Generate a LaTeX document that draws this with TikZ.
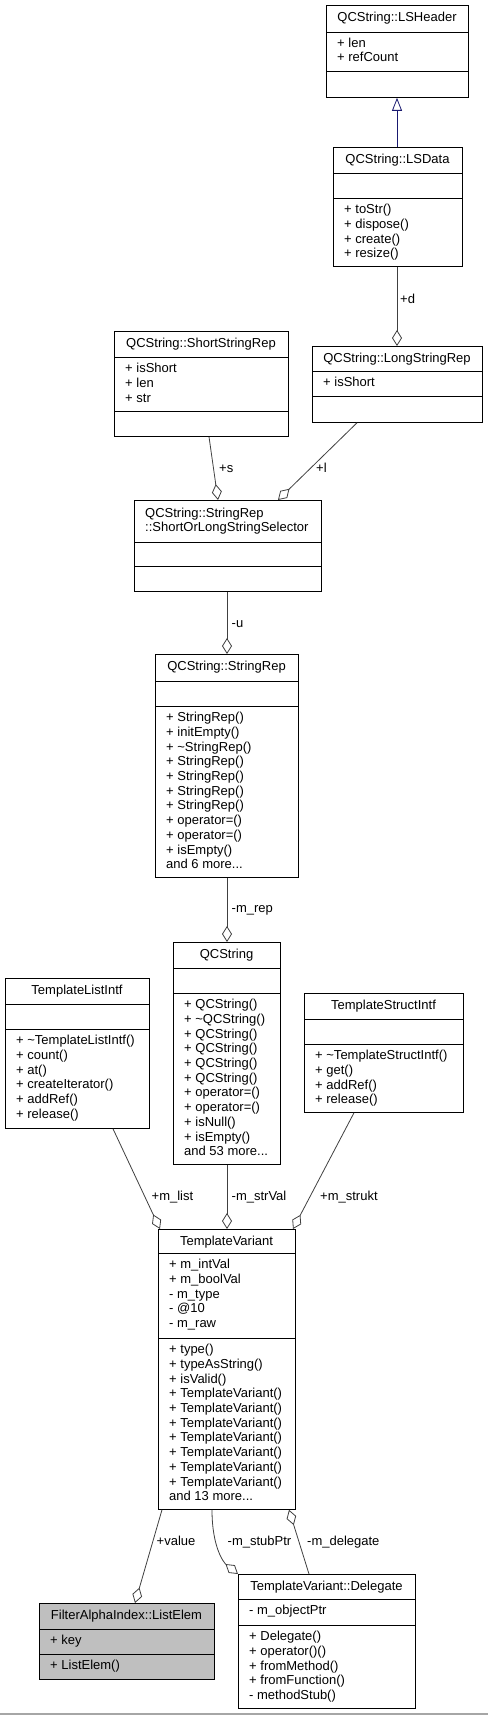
\documentclass[tikz,border=0pt]{standalone}
\usepackage{fontspec}
\setmainfont{Liberation Sans}
\usetikzlibrary{arrows.meta,calc}
\definecolor{linkgray}{HTML}{404040}
\definecolor{inhblue}{HTML}{191970}
\definecolor{elemgray}{HTML}{BFBFBF}
\newcommand\umlbox[8]{%
  \pgfmathsetmacro\ubw{#4-#2}\pgfmathsetmacro\ubh{#5-#3}%
  \node[cls,#8,minimum width=\ubw pt,minimum height=\ubh pt,anchor=north west] (#1) at (#2,#3) {};
  \draw[clsline] (#2,#6) -- (#4,#6);
  \draw[clsline] (#2,#7) -- (#4,#7);
}
\begin{document}
\begin{tikzpicture}[x=1pt,y=-1pt,
  every node/.style={font=\fontsize{13}{14.7}\selectfont},
  cls/.style={draw=black,line width=0.8pt,fill=white,inner sep=0,rectangle},
  clsline/.style={draw=black,line width=0.8pt},
  ttl/.style={anchor=base,inner sep=0},
  mem/.style={anchor=north west,inner sep=0,align=left,yshift=10.29pt},
  lbl/.style={anchor=base west,inner sep=0},
  agg/.style={draw=linkgray,line width=0.8pt,-{Diamond[length=16pt,width=10pt,fill=white]}},
  inh/.style={draw=inhblue,line width=0.8pt,-{Triangle[length=13pt,width=10pt,fill=white]}}]
\useasboundingbox (0,0) rectangle (488,1715);
\fill[white] (0,0) rectangle (488,1715);
\draw[gray!70,line width=1.2pt] (0,1714) -- (488,1714);

% boxes
\umlbox{lsh}{326}{5}{468}{97}{32}{71}{}
\node[ttl] (lsh-t) at (397,22) {QCString::LSHeader};
\node[mem] (lsh-a) at (337,47) {\strut+ len\\+ refCount};

\umlbox{lsd}{333}{147}{462}{266}{173}{198}{}
\node[ttl] (lsd-t) at (397.5,163.5) {QCString::LSData};
\node[mem] (lsd-m) at (344,213.5) {\strut+ toStr()\\+ dispose()\\+ create()\\+ resize()};

\umlbox{ssr}{114}{331}{288}{436}{357}{411}{}
\node[ttl] (ssr-t) at (201,347.5) {QCString::ShortStringRep};
\node[mem] (ssr-a) at (125,372.5) {\strut+ isShort\\+ len\\+ str};

\umlbox{lsr}{312}{346}{482}{422}{371}{396}{}
\node[ttl] (lsr-t) at (397,362) {QCString::LongStringRep};
\node[mem] (lsr-a) at (323,386.5) {\strut+ isShort};

\umlbox{sel}{134}{500}{321}{591}{542}{566}{}
\node[mem] (sel-t) at (145,517) {\strut QCString::StringRep\\::ShortOrLongStringSelector};

\umlbox{sr}{155}{654}{298}{877}{681}{706}{}
\node[ttl] (sr-t) at (226.5,670.5) {QCString::StringRep};
\node[mem] (sr-m) at (166,721.5) {\strut+ StringRep()\\+ initEmpty()\\+ \textasciitilde StringRep()\\+ StringRep()\\+ StringRep()\\+ StringRep()\\+ StringRep()\\+ operator=()\\+ operator=()\\+ isEmpty()\\and 6 more...};

\umlbox{qcs}{173}{942}{280}{1164}{968}{993}{}
\node[ttl] (qcs-t) at (226.5,958.5) {QCString};
\node[mem] (qcs-m) at (184,1008.5) {\strut+ QCString()\\+ \textasciitilde QCString()\\+ QCString()\\+ QCString()\\+ QCString()\\+ QCString()\\+ operator=()\\+ operator=()\\+ isNull()\\+ isEmpty()\\and 53 more...};

\umlbox{tli}{5}{978}{149}{1128}{1004}{1029}{}
\node[ttl] (tli-t) at (77,994.5) {TemplateListIntf};
\node[mem] (tli-m) at (16,1044.5) {\strut+ \textasciitilde TemplateListIntf()\\+ count()\\+ at()\\+ createIterator()\\+ addRef()\\+ release()};

\umlbox{tsi}{304}{993}{463}{1112}{1019}{1044}{}
\node[ttl] (tsi-t) at (383.5,1009.5) {TemplateStructIntf};
\node[mem] (tsi-m) at (315,1059.5) {\strut+ \textasciitilde TemplateStructIntf()\\+ get()\\+ addRef()\\+ release()};

\umlbox{tv}{158}{1229}{295}{1509}{1253}{1338}{}
\node[ttl] (tv-t) at (226.5,1245) {TemplateVariant};
\node[mem] (tv-a) at (169,1268.5) {\strut+ m\_intVal\\+ m\_boolVal\\- m\_type\\- @10\\- m\_raw};
\node[mem] (tv-m) at (169,1353.5) {\strut+ type()\\+ typeAsString()\\+ isValid()\\+ TemplateVariant()\\+ TemplateVariant()\\+ TemplateVariant()\\+ TemplateVariant()\\+ TemplateVariant()\\+ TemplateVariant()\\+ TemplateVariant()\\and 13 more...};

\umlbox{le}{39}{1603}{214}{1679}{1629}{1654}{fill=elemgray}
\node[ttl] (le-t) at (126.5,1619.5) {FilterAlphaIndex::ListElem};
\node[mem] (le-a) at (50,1644.5) {\strut+ key};
\node[mem] (le-m) at (50,1669.5) {\strut+ ListElem()};

\umlbox{del}{238}{1574}{415}{1708}{1599}{1625}{}
\node[ttl] (del-t) at (326.5,1590) {TemplateVariant::Delegate};
\node[mem] (del-a) at (249,1614.5) {\strut- m\_objectPtr};
\node[mem] (del-m) at (249,1640.5) {\strut+ Delegate()\\+ operator()()\\+ fromMethod()\\+ fromFunction()\\- methodStub()};

% connectors
\draw[inh] ($(lsd.north west)+(64,0)$) -- ($(lsh.south west)+(71,0)$);
\draw[agg] ($(lsd.south west)+(64,0)$) -- ($(lsr.north west)+(85,0)$);
\node[lbl] (l-d) at (400,303) {+d};
\draw[agg] ($(ssr.south west)+(95,0)$) -- ($(sel.north west)+(84,0)$);
\node[lbl] (l-s) at (219,472) {+s};
\draw[agg] ($(lsr.south west)+(45,0)$) -- ($(sel.north west)+(144,0)$);
\node[lbl] (l-l) at (316,472) {+l};
\draw[agg] ($(sel.south west)+(93,0)$) -- ($(sr.north west)+(72,0)$);
\node[lbl] (l-u) at (231.5,627) {-u};
\draw[agg] ($(sr.south west)+(72,0)$) -- ($(qcs.north west)+(54,0)$);
\node[lbl] (l-rep) at (231.5,912) {-m\_rep};
\draw[agg] ($(tli.south west)+(108,0)$) -- ($(tv.north west)+(2,0)$);
\node[lbl] (l-list) at (151.5,1200) {+m\_list};
\draw[agg] ($(qcs.south west)+(54,0)$) -- ($(tv.north west)+(69,0)$);
\node[lbl] (l-str) at (231.5,1200) {-m\_strVal};
\draw[agg] ($(tsi.south west)+(50,0)$) -- ($(tv.north west)+(135,0)$);
\node[lbl] (l-strukt) at (320,1200) {+m\_strukt};
\draw[agg] ($(tv.south west)+(4,0)$) -- ($(le.north west)+(96,0)$);
\node[lbl] (l-value) at (156.5,1545) {+value};
\draw[agg] ($(tv.south west)+(54,0)$) .. controls ($(tv.south west)+(54,38)$) and ($(tv.south west)+(66,53)$) .. (del.north west);
\node[lbl] (l-stub) at (227.5,1545) {-m\_stubPtr};
\draw[agg] ($(del.north west)+(71,0)$) -- ($(tv.south west)+(131,0)$);
\node[lbl] (l-deleg) at (307,1545) {-m\_delegate};
\end{tikzpicture}
\end{document}
